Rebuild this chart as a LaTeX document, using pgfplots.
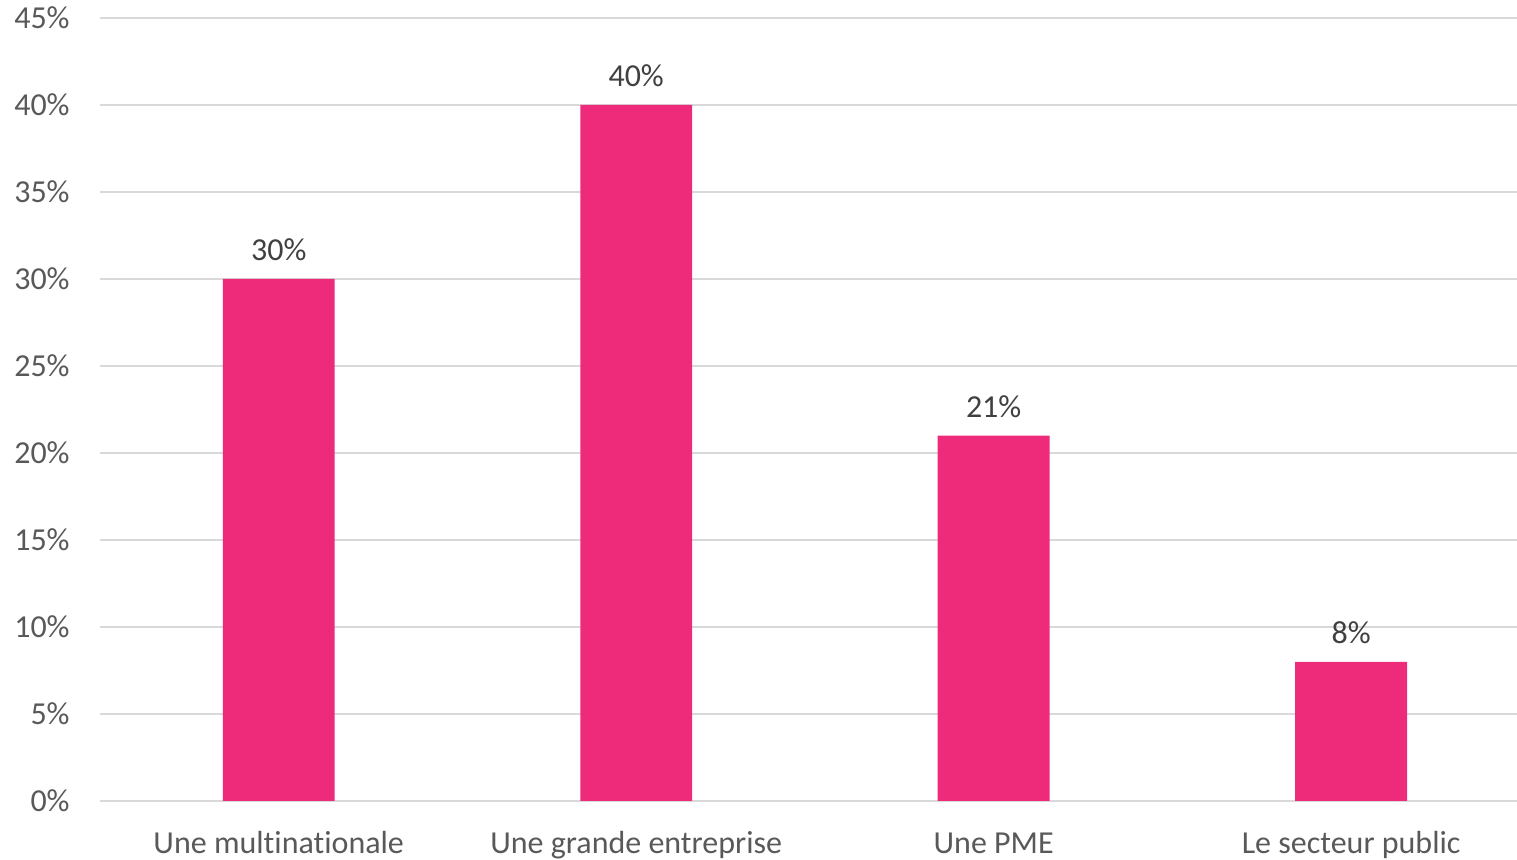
\documentclass[border=0pt]{standalone}
\usepackage{pgfplots}
\pgfplotsset{compat=1.18}
\usepackage{fontspec}
\setmainfont[Ligatures=NoCommon]{Carlito}
\definecolor{barpink}{HTML}{EE2A7B}
\definecolor{ticktext}{HTML}{595959}
\definecolor{labeltext}{HTML}{404040}
\definecolor{gridc}{HTML}{D9D9D9}
\begin{document}
\begin{tikzpicture}
\useasboundingbox (0,0) rectangle (758.5pt,430pt);
\begin{axis}[
  at={(50pt,29.5pt)}, anchor=south west,
  scale only axis,
  width=708.5pt, height=391.5pt,
  xmin=-0.5, xmax=3.464,
  ymin=0, ymax=45,
  ybar, bar width=0.313,
  axis x line*=bottom,
  axis y line*=left,
  x axis line style={draw=gridc, line width=1pt, -},
  y axis line style={draw=none},
  xtick={0,1,2,3},
  xticklabels={Une multinationale,Une grande entreprise,Une PME,Le secteur public},
  xtick style={draw=none},
  xticklabel style={anchor=base, inner sep=0pt, yshift=-22pt, font=\fontsize{16}{19}\selectfont, text=ticktext},
  ytick={0,5,...,45},
  yticklabels={0\%,5\%,10\%,15\%,20\%,25\%,30\%,35\%,40\%,45\%},
  ymajorgrids,
  grid style={draw=gridc, line width=1pt},
  ytick style={draw=none},
  yticklabel style={anchor=east, inner sep=0pt, xshift=-15pt, font=\fontsize{16}{19}\selectfont, text=ticktext},
  nodes near coords={\pgfmathprintnumber[assume math mode=true]{\pgfplotspointmeta}\%},
  every node near coord/.append style={anchor=base, inner sep=0pt, yshift=9pt, font=\fontsize{16}{19}\selectfont, text=labeltext},
  clip=false,
]
\addplot[fill=barpink, draw=none] coordinates {(0,30) (1,40) (2,21) (3,8)};
\end{axis}
\end{tikzpicture}
\end{document}
